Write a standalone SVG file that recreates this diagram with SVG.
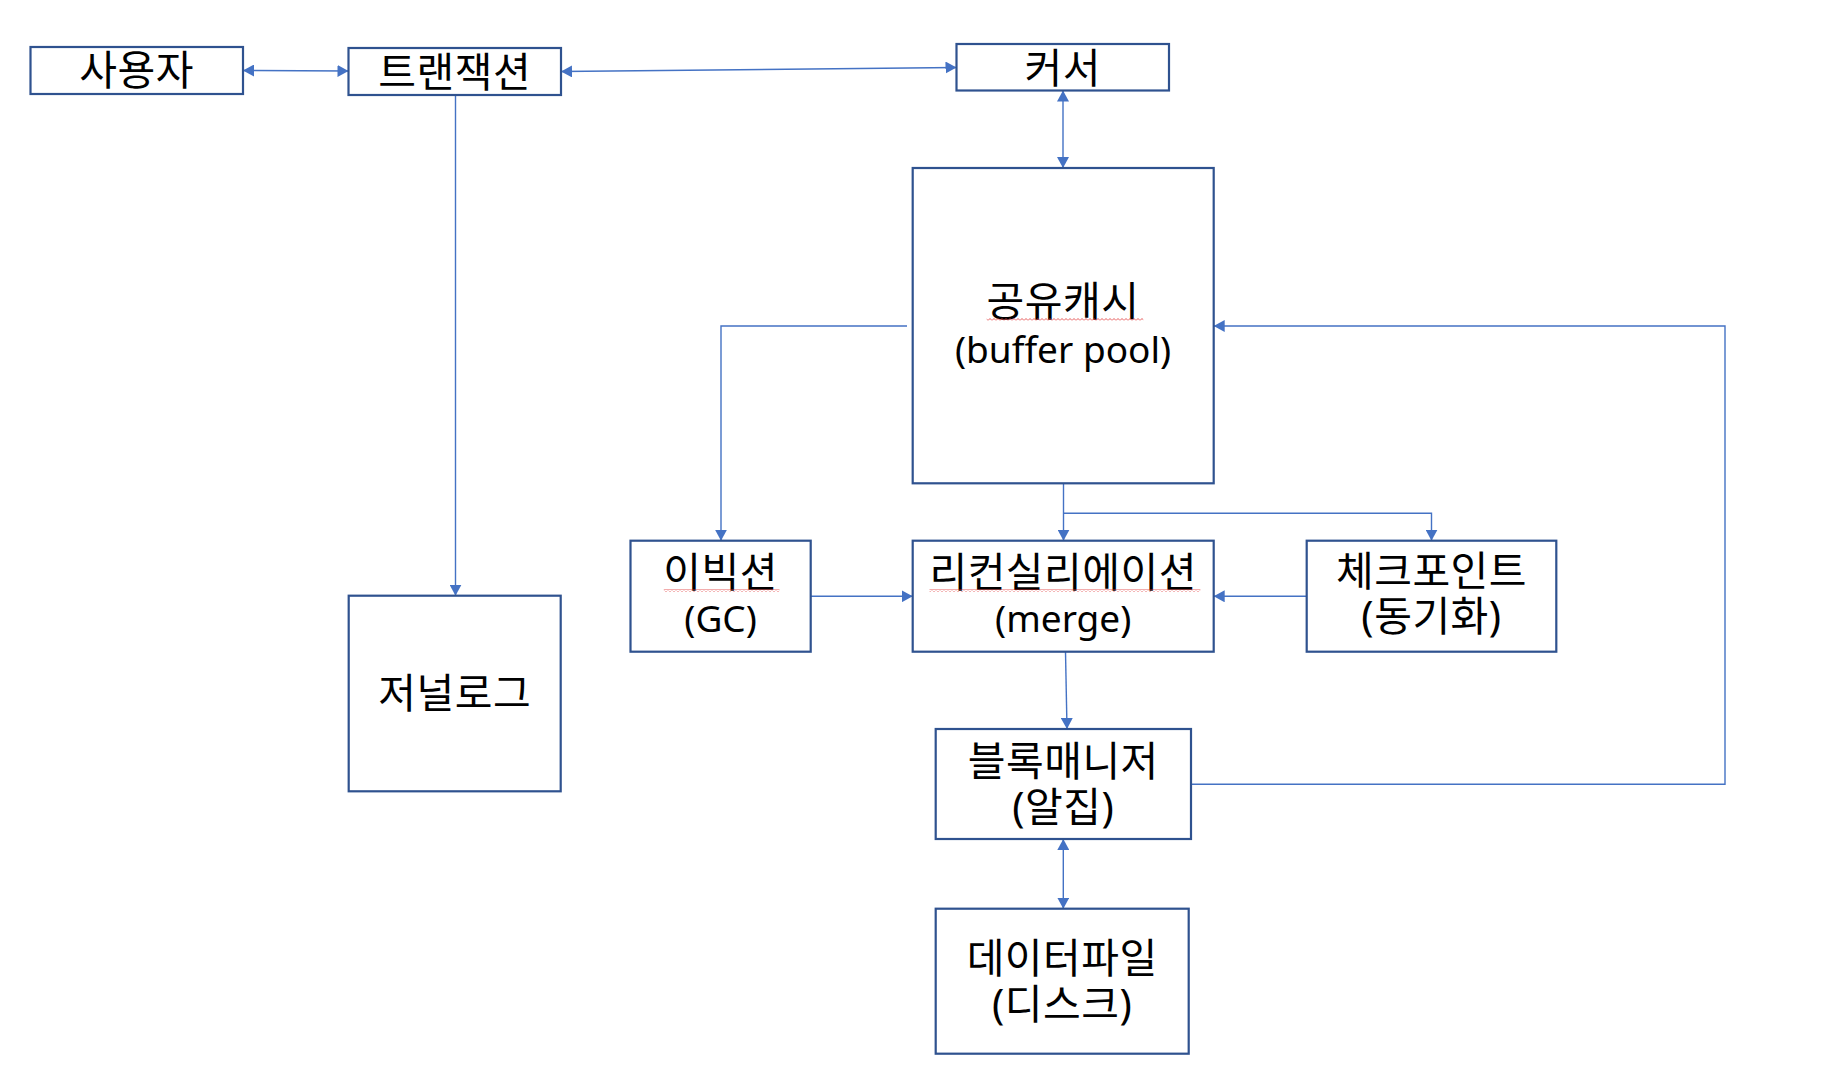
<svg xmlns="http://www.w3.org/2000/svg" width="1840" height="1092" viewBox="0 0 1840 1092">
<style>
.box{fill:#fff;stroke:#2F528F;stroke-width:2.2}
.t{font-family:"Noto Sans","Noto Sans CJK KR",sans-serif;font-size:37px;fill:#000;text-anchor:middle}
.k{font-size:41px;letter-spacing:0.5px}
.c{fill:none;stroke:#4472C4;stroke-width:1.4}
.a{marker-end:url(#ah)}
.aa{marker-end:url(#ah);marker-start:url(#ah)}
</style>
<defs>
<marker id="ah" markerUnits="userSpaceOnUse" markerWidth="12" markerHeight="12" refX="11" refY="6" orient="auto-start-reverse">
<path d="M0,0 L11,6 L0,12 Z" fill="#4472C4"/>
</marker>
<pattern id="sq" width="4" height="3" patternUnits="userSpaceOnUse">
<path d="M0,2.5 L2,0.5 L4,2.5" fill="none" stroke="#E03030" stroke-width="0.8"/>
</pattern>
</defs>
<g id="connectors">
<path class="c aa" d="M243,70.5 L348.5,71"/>
<path class="c aa" d="M561,71.5 L956.5,67.5"/>
<path class="c aa" d="M1063,90.5 L1063,168"/>
<path class="c a" d="M455.5,95 L455.5,595.7"/>
<path class="c a" d="M907,326 L721,326 L721,540.7"/>
<path class="c a" d="M1063.5,483.3 L1063.5,540.7"/>
<path class="c a" d="M1063.5,513.3 L1431.5,513.3 L1431.5,540.7"/>
<path class="c a" d="M810.7,596.3 L912.7,596.3"/>
<path class="c a" d="M1306.7,596.3 L1213.7,596.3"/>
<path class="c a" d="M1065.5,651.7 L1067,729"/>
<path class="c a" d="M1191,784.3 L1725,784.3 L1725,326 L1213.7,326"/>
<path class="c aa" d="M1063.3,839 L1063.3,908.7"/>
</g>
<g id="user">
<rect class="box" x="30.5" y="47" width="212.5" height="47"/>
<text class="t k" x="136.7" y="85">사용자</text>
</g>
<g id="transaction">
<rect class="box" x="348.5" y="48" width="212.5" height="47"/>
<text class="t k" x="454.7" y="87">트랜잭션</text>
</g>
<g id="cursor">
<rect class="box" x="956.5" y="44" width="212.5" height="46.5"/>
<text class="t k" x="1062.7" y="83">커서</text>
</g>
<g id="buffer-pool">
<rect class="box" x="912.7" y="168" width="301" height="315.3"/>
<text class="t k" x="1063" y="316">공유캐시</text>
<text class="t" x="1063" y="363">(buffer pool)</text>
<rect x="986.7" y="318" width="156.6" height="3" fill="url(#sq)"/>
</g>
<g id="eviction">
<rect class="box" x="630.5" y="540.7" width="180.2" height="111"/>
<text class="t k" x="720.6" y="587">이빅션</text>
<text class="t" x="720.6" y="632">(GC)</text>
<rect x="663.8" y="589" width="115.7" height="3" fill="url(#sq)"/>
</g>
<g id="reconciliation">
<rect class="box" x="912.7" y="540.7" width="301" height="111"/>
<text class="t k" x="1063.2" y="587">리컨실리에이션</text>
<text class="t" x="1063.2" y="632">(merge)</text>
<rect x="929.5" y="589" width="270.9" height="3" fill="url(#sq)"/>
</g>
<g id="checkpoint">
<rect class="box" x="1306.7" y="540.7" width="249.6" height="111"/>
<text class="t k" x="1431.5" y="586">체크포인트</text>
<text class="t k" x="1431.5" y="631">(동기화)</text>
</g>
<g id="journal-log">
<rect class="box" x="348.7" y="595.7" width="212" height="195.6"/>
<text class="t k" x="454.7" y="708">저널로그</text>
</g>
<g id="block-manager">
<rect class="box" x="935.7" y="729" width="255.3" height="110"/>
<text class="t k" x="1063.3" y="776">블록매니저</text>
<text class="t k" x="1063.3" y="822">(알집)</text>
</g>
<g id="data-file">
<rect class="box" x="935.7" y="908.7" width="253" height="145"/>
<text class="t k" x="1062.2" y="973">데이터파일</text>
<text class="t k" x="1062.2" y="1019">(디스크)</text>
</g>
</svg>
